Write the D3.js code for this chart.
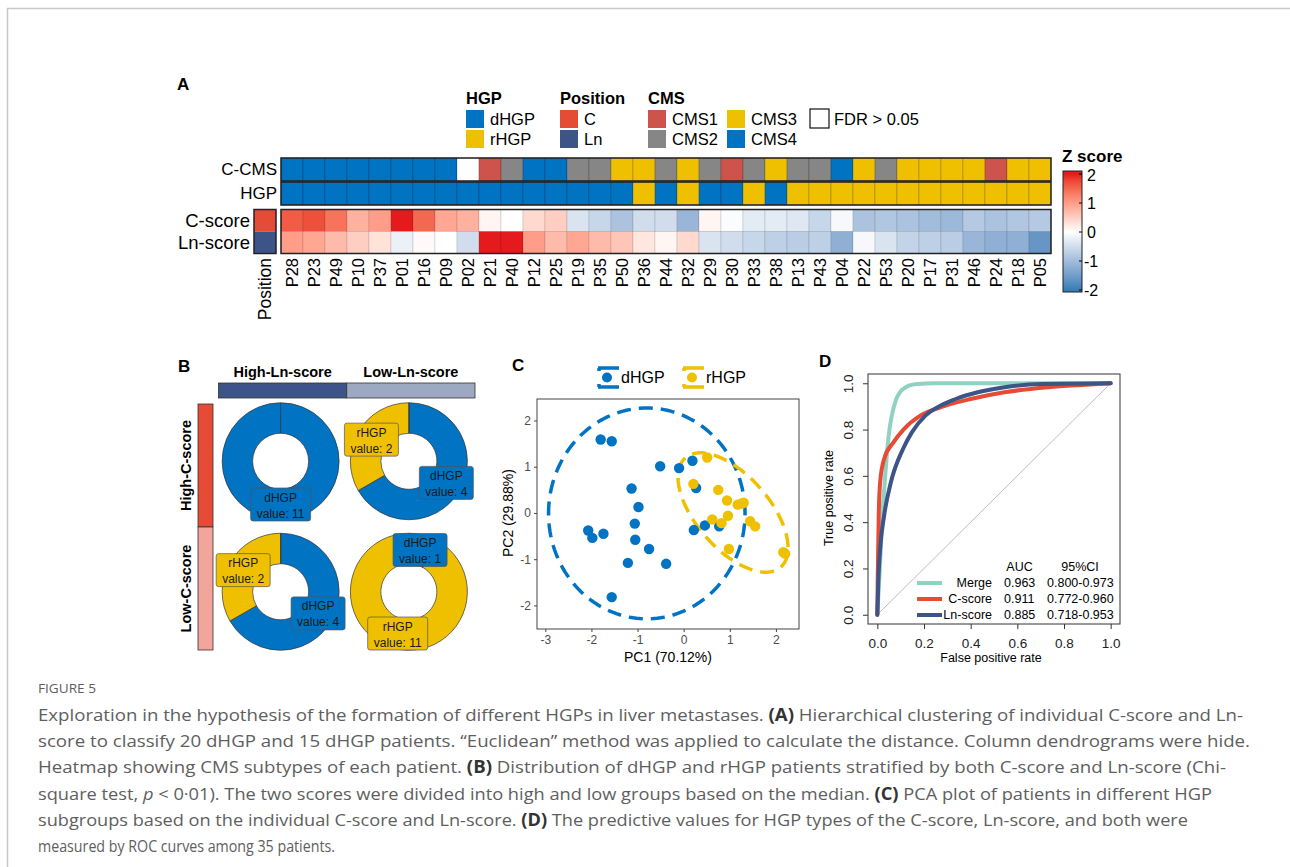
<!DOCTYPE html>
<html>
<head>
<meta charset="utf-8">
<script src="https://cdn.jsdelivr.net/npm/d3@7"></script>
<style>
  body { margin: 0; background: #fff; }
  svg { display: block; font-family: "Liberation Sans", Arial, sans-serif; }
</style>
</head>
<body>
<div id="fig"></div>
<script>
// ---------- data: panel A (heatmap) ----------
const patients = ["P28","P23","P49","P10","P37","P01","P16","P09","P02","P21","P40","P12","P25","P19","P35","P50","P36",
  "P44","P32","P29","P30","P33","P38","P13","P43","P04","P22","P53","P20","P17","P31","P46","P24","P18","P05"];
const cmsCall = ["CMS4","CMS4","CMS4","CMS4","CMS4","CMS4","CMS4","CMS4","FDR","CMS1","CMS2","CMS4","CMS4","CMS2","CMS2","CMS3","CMS3",
  "CMS2","CMS3","CMS2","CMS1","CMS2","CMS3","CMS2","CMS2","CMS4","CMS3","CMS2","CMS3","CMS3","CMS3","CMS3","CMS1","CMS3","CMS3"];
const hgpType = ["dHGP","dHGP","dHGP","dHGP","dHGP","dHGP","dHGP","dHGP","dHGP","dHGP","dHGP","dHGP","dHGP","dHGP","dHGP","dHGP","rHGP",
  "dHGP","rHGP","dHGP","dHGP","rHGP","dHGP","rHGP","rHGP","rHGP","rHGP","rHGP","rHGP","rHGP","rHGP","rHGP","rHGP","rHGP","rHGP"];
const cScore = [1.6,1.7,1.4,0.8,1.0,2.0,1.5,0.9,0.8,0.1,0.0,0.4,0.5,-0.4,-0.6,-0.9,-0.5,
  -0.5,-1.1,0.1,-0.05,-0.3,-0.3,-0.35,-0.6,-0.1,-0.9,-0.85,-0.9,-1.0,-1.05,-0.8,-0.9,-0.85,-0.8];
const lnScore = [1.0,0.9,0.7,0.5,0.3,-0.2,0.05,0.0,-0.5,2.0,2.0,1.0,0.7,0.9,0.7,0.6,0.25,
  0.1,0.4,-0.4,-0.5,-0.6,-0.7,-0.75,-0.7,-1.2,-0.1,-0.4,-0.65,-0.7,-0.75,-1.1,-1.2,-1.2,-1.6];
const scoreRows = ["C-score","Ln-score"];
const positionOfRow = ["C","Ln"];
const zTicks = [2,1,0,-1,-2];

// ---------- data: panel B (donuts) ----------
const lnGroups = ["High-Ln-score","Low-Ln-score"];
const cGroups = ["High-C-score","Low-C-score"];
// order: [cGroup][lnGroup]
const dHGPcount = [[11,4],[4,1]];
const rHGPcount = [[0,2],[2,11]];

// ---------- data: panel C (PCA) ----------
const pcaD = [[-1.80,1.59],[-1.56,1.55],[-0.51,1.01],[-0.10,0.97],[0.19,1.13],[0.27,0.54],[-1.13,0.53],[-0.98,0.13],
  [-1.06,-0.23],[-1.05,-0.58],[-0.75,-0.78],[-1.21,-1.08],[-0.38,-1.10],[-2.07,-0.38],[-1.98,-0.54],[-1.74,-0.45],
  [-1.56,-1.82],[0.22,-0.37],[0.46,-0.27],[0.77,-0.29]];
const pcaR = [[0.51,1.20],[0.21,0.63],[0.75,0.50],[0.94,0.27],[1.17,0.18],[1.30,0.22],[1.25,0.20],[0.96,-0.06],
  [0.62,-0.14],[0.82,-0.22],[1.44,-0.18],[1.55,-0.29],[0.98,-0.78],[2.16,-0.85],[2.20,-0.88]];
const ellipseCentre = [[-0.80,-0.01],[1.07,0.01]];
const ellipseRadii = [[2.13,2.28],[1.57,0.79]];
const ellipseAngle = [0,-48.8];
const pcaXTicks = [-3,-2,-1,0,1,2];
const pcaYTicks = [-2,-1,0,1,2];

// ---------- data: panel D (ROC) ----------
const rocMerge = [[0,0],[0.008,0.15],[0.015,0.29],[0.022,0.43],[0.033,0.59],[0.043,0.716],[0.052,0.8],[0.062,0.86],
  [0.081,0.932],[0.1,0.965],[0.112,0.976],[0.135,0.99],[0.17,0.997],[0.25,1],[1,1]];
const rocC = [[0,0],[0.0015,0.14],[0.006,0.43],[0.012,0.572],[0.029,0.673],[0.069,0.745],[0.112,0.8],[0.184,0.86],
  [0.27,0.896],[0.4,0.932],[0.545,0.961],[0.732,0.983],[0.876,0.993],[1,1]];
const rocLn = [[0,0],[0.004,0.14],[0.012,0.284],[0.029,0.428],[0.058,0.572],[0.11,0.716],[0.148,0.788],[0.206,0.86],
  [0.27,0.903],[0.336,0.932],[0.43,0.961],[0.545,0.983],[0.703,0.997],[1,1]];
const rocNames = ["Merge","C-score","Ln-score"];
const rocAUC = ["0.963","0.911","0.885"];
const rocCI = ["0.800-0.973","0.772-0.960","0.718-0.953"];
const rocTicks = [0,0.2,0.4,0.6,0.8,1.0];

// ---------- colours ----------
const hgpColor = {dHGP: "#0073C2", rHGP: "#EFC000"};
const cmsColor = {CMS1: "#CD534C", CMS2: "#868686", CMS3: "#EFC000", CMS4: "#0073C2", FDR: "#FFFFFF"};
const posColor = {C: "#E64B35", Ln: "#3C5488"};
const rocColor = ["#91D1C2", "#E64B35", "#3C5488"];
const zColor = d3.scaleLinear().domain([-2,0,2]).range(["#377EB8","#FFFFFF","#E41A1C"])
  .interpolate(d3.interpolateLab).clamp(true);

const W = 1290, H = 867;
const svg = d3.select("#fig").append("svg").attr("width", W).attr("height", H);

// page frame
svg.append("path").attr("d", `M7.5,${H}V8.5H${W}`)
  .attr("fill", "none").attr("stroke", "#c8c8c8").attr("stroke-width", 1.5);

function panelLetter(x, y, t) {
  svg.append("text").attr("x", x).attr("y", y).attr("font-size", 17).attr("font-weight", "bold").text(t);
}

// ================= Panel A =================
panelLetter(177, 90, "A");
const gA = svg.append("g");
const xA = d3.scaleBand().domain(patients).range([281, 1051]);
const annRows = [
  {name: "C-CMS", vals: cmsCall, col: cmsColor, y0: 158, y1: 181},
  {name: "HGP", vals: hgpType, col: hgpColor, y0: 182, y1: 205}
];
annRows.forEach(r => {
  gA.selectAll(null).data(patients).join("rect")
    .attr("x", d => xA(d)).attr("y", r.y0)
    .attr("width", xA.bandwidth()).attr("height", r.y1 - r.y0)
    .attr("fill", (d, i) => r.col[r.vals[i]])
    .attr("stroke", "rgba(0,0,0,0.3)").attr("stroke-width", 0.6);
  gA.append("rect").attr("x", 281).attr("y", r.y0).attr("width", 770).attr("height", r.y1 - r.y0)
    .attr("fill", "none").attr("stroke", "#222").attr("stroke-width", 1.5);
  gA.append("text").attr("x", 277).attr("y", (r.y0 + r.y1) / 2).attr("text-anchor", "end")
    .attr("dominant-baseline", "central").attr("font-size", 17).text(r.name);
});

const yS = d3.scaleBand().domain(scoreRows).range([209.5, 253.5]);
const scoreVals = [cScore, lnScore];
scoreRows.forEach((row, k) => {
  gA.selectAll(null).data(patients).join("rect")
    .attr("x", d => xA(d)).attr("y", yS(row))
    .attr("width", xA.bandwidth()).attr("height", yS.bandwidth())
    .attr("fill", (d, i) => zColor(scoreVals[k][i]))
    .attr("stroke", "rgba(0,0,0,0.18)").attr("stroke-width", 0.6);
  gA.append("rect").attr("x", 254).attr("y", yS(row)).attr("width", 22).attr("height", yS.bandwidth())
    .attr("fill", posColor[positionOfRow[k]]);
  gA.append("text").attr("x", 250).attr("y", yS(row) + yS.bandwidth() / 2).attr("text-anchor", "end")
    .attr("dominant-baseline", "central").attr("font-size", 18.5).text(row);
});
gA.append("rect").attr("x", 281).attr("y", 209.5).attr("width", 770).attr("height", 44)
  .attr("fill", "none").attr("stroke", "#222").attr("stroke-width", 1.5);
gA.append("rect").attr("x", 254).attr("y", 209.5).attr("width", 22).attr("height", 44)
  .attr("fill", "none").attr("stroke", "#222").attr("stroke-width", 1.5);

// column labels
gA.selectAll(null).data(patients).join("text")
  .attr("transform", d => `translate(${xA(d) + xA.bandwidth() / 2},258) rotate(-90)`)
  .attr("text-anchor", "end").attr("dominant-baseline", "central").attr("font-size", 16.5).text(d => d);
gA.append("text").attr("transform", "translate(265,258) rotate(-90)")
  .attr("text-anchor", "end").attr("dominant-baseline", "central").attr("font-size", 17.5).text("Position");

// legends
function legendBlock(x, title, items, colors, cols) {
  gA.append("text").attr("x", x).attr("y", 104).attr("font-size", 16.5).attr("font-weight", "bold").text(title);
  items.forEach((it, i) => {
    const col = Math.floor(i / 2), row = i % 2;
    const sx = x + col * cols;
    gA.append("rect").attr("x", sx).attr("y", 110 + row * 20).attr("width", 18).attr("height", 18)
      .attr("fill", colors[it]);
    gA.append("text").attr("x", sx + 24).attr("y", 119 + row * 20).attr("dominant-baseline", "central")
      .attr("font-size", 16.5).text(it);
  });
}
legendBlock(466, "HGP", ["dHGP","rHGP"], hgpColor, 0);
legendBlock(560, "Position", ["C","Ln"], posColor, 0);
legendBlock(648, "CMS", ["CMS1","CMS2","CMS3","CMS4"], cmsColor, 79);
gA.append("rect").attr("x", 810).attr("y", 109).attr("width", 19).attr("height", 19)
  .attr("fill", "#fff").attr("stroke", "#111").attr("stroke-width", 1.2);
gA.append("text").attr("x", 834).attr("y", 119).attr("dominant-baseline", "central")
  .attr("font-size", 16.5).text("FDR > 0.05");

// colour bar
const zY = d3.scaleLinear().domain([-2,2]).range([290,174]);
const defs = svg.append("defs");
const grad = defs.append("linearGradient").attr("id", "zgrad").attr("x1", 0).attr("y1", 0).attr("x2", 0).attr("y2", 1);
const barTop = 171, barH = 121;
d3.range(2, -2.01, -0.25).forEach(v => {
  grad.append("stop").attr("offset", (zY(v) - barTop) / barH).attr("stop-color", zColor(v));
});
gA.append("text").attr("x", 1062).attr("y", 162).attr("font-size", 17).attr("font-weight", "bold").text("Z score");
gA.append("rect").attr("x", 1063).attr("y", barTop).attr("width", 19).attr("height", barH)
  .attr("fill", "url(#zgrad)").attr("stroke", "#222").attr("stroke-width", 1);
zTicks.forEach(t => {
  gA.append("line").attr("x1", 1079).attr("x2", 1082).attr("y1", zY(t)).attr("y2", zY(t)).attr("stroke", "#000");
  gA.append("text").attr("x", t < 0 ? 1084 : 1087).attr("y", zY(t) + (t === 2 ? 1.5 : 0)).attr("dominant-baseline", "central")
    .attr("font-size", 16).text(t);
});

// ================= Panel B =================
panelLetter(178, 372, "B");
const gB = svg.append("g");
const xB = d3.scaleBand().domain(lnGroups).range([218.5, 475]);
const yBar = d3.scaleBand().domain(cGroups).range([404, 650]);
const yB = d3.scaleBand().domain(cGroups).range([396, 657]);
const lnBarCol = ["#3C5488", "#9DA9C3"], cBarCol = ["#E64B35", "#F2A59A"];
lnGroups.forEach((g, i) => {
  gB.append("rect").attr("x", xB(g)).attr("y", 383).attr("width", xB.bandwidth()).attr("height", 15)
    .attr("fill", lnBarCol[i]).attr("stroke", "#333").attr("stroke-width", 0.8);
  gB.append("text").attr("x", xB(g) + xB.bandwidth() / 2).attr("y", 377).attr("text-anchor", "middle")
    .attr("font-size", 14.5).attr("font-weight", "bold").text(g);
});
cGroups.forEach((g, i) => {
  gB.append("rect").attr("x", 198).attr("y", yBar(g)).attr("width", 15).attr("height", yBar.bandwidth())
    .attr("fill", cBarCol[i]).attr("stroke", "#333").attr("stroke-width", 0.8);
  gB.append("text").attr("transform", `translate(191,${yBar(g) + yBar.bandwidth() / 2}) rotate(-90)`)
    .attr("text-anchor", "middle").attr("font-size", 14.5).attr("font-weight", "bold").text(g);
});
const pie = d3.pie().sort(null).value(d => d.n);
const arc = d3.arc().innerRadius(28).outerRadius(58.5);
cGroups.forEach((cg, i) => {
  lnGroups.forEach((lg, j) => {
    const cx = xB(lg) + xB.bandwidth() / 2 - 2;
    const cy = yB(cg) + yB.bandwidth() / 2;
    const g = gB.append("g").attr("transform", `translate(${cx},${cy})`);
    const slices = pie([{k: "dHGP", n: dHGPcount[i][j]}, {k: "rHGP", n: rHGPcount[i][j]}]).filter(d => d.data.n > 0);
    g.selectAll("path").data(slices).join("path").attr("d", arc)
      .attr("fill", d => hgpColor[d.data.k]).attr("stroke", "#333").attr("stroke-width", 0.7);
    g.append("line").attr("x1", 0).attr("x2", 0).attr("y1", -28).attr("y2", -58.5)
      .attr("stroke", "#333").attr("stroke-width", 0.7);
    slices.forEach(d => {
      const [lx, ly] = arc.centroid(d);
      const lines = [d.data.k, "value: " + d.data.n];
      const bw = d.data.n >= 10 ? 60 : 54, bh = 33;
      g.append("rect").attr("x", lx - bw / 2).attr("y", ly - bh / 2).attr("width", bw).attr("height", bh)
        .attr("rx", 2.5).attr("fill", hgpColor[d.data.k]).attr("stroke", "#555").attr("stroke-width", 0.7);
      lines.forEach((t, k) => {
        g.append("text").attr("x", lx).attr("y", ly + (k === 0 ? -7 : 9)).attr("text-anchor", "middle")
          .attr("dominant-baseline", "central").attr("font-size", 12).attr("fill", "#1a1a1a").text(t);
      });
    });
  });
});

// ================= Panel C =================
panelLetter(512, 371, "C");
const gC = svg.append("g");
const xC = d3.scaleLinear().domain([-3.18, 2.5]).range([537, 799]);
const yC = d3.scaleLinear().domain([-2.51, 2.465]).range([629, 399]);
gC.append("rect").attr("x", 537).attr("y", 399).attr("width", 262).attr("height", 230)
  .attr("fill", "#fff").attr("stroke", "#444").attr("stroke-width", 1);
const axC = gC.append("g").attr("transform", "translate(0,629)")
  .call(d3.axisBottom(xC).tickValues(pcaXTicks).tickFormat(d => String(d)).tickSize(3).tickPadding(3));
const ayC = gC.append("g").attr("transform", "translate(537,0)")
  .call(d3.axisLeft(yC).tickValues(pcaYTicks).tickFormat(d => String(d)).tickSize(3).tickPadding(3));
[axC, ayC].forEach(a => {
  a.select(".domain").remove();
  a.selectAll("line").attr("stroke", "#444");
  a.selectAll("text").attr("font-size", 12).attr("fill", "#4d4d4d").attr("font-family", "Liberation Sans, Arial, sans-serif");
});
gC.append("text").attr("x", 668).attr("y", 662).attr("text-anchor", "middle").attr("font-size", 14).text("PC1 (70.12%)");
gC.append("text").attr("transform", "translate(513,513) rotate(-90)").attr("text-anchor", "middle")
  .attr("font-size", 14).text("PC2 (29.88%)");

const ellLine = d3.line().x(d => xC(d[0])).y(d => yC(d[1]));
const groupsC = ["dHGP","rHGP"];
groupsC.forEach((gname, k) => {
  const [ex, ey] = ellipseCentre[k], [ra, rb] = ellipseRadii[k], th = ellipseAngle[k] * Math.PI / 180;
  const pts = d3.range(0, 2 * Math.PI + 0.001, Math.PI / 90).map(t => [
    ex + ra * Math.cos(t) * Math.cos(th) - rb * Math.sin(t) * Math.sin(th),
    ey + ra * Math.cos(t) * Math.sin(th) + rb * Math.sin(t) * Math.cos(th)
  ]);
  gC.append("path").attr("d", ellLine(pts)).attr("fill", "none").attr("stroke", hgpColor[gname])
    .attr("stroke-width", 3.5).attr("stroke-dasharray", "14 8");
});
gC.selectAll(".pd").data(pcaD).join("circle").attr("cx", d => xC(d[0])).attr("cy", d => yC(d[1]))
  .attr("r", 5.2).attr("fill", hgpColor.dHGP);
gC.selectAll(".pr").data(pcaR).join("circle").attr("cx", d => xC(d[0])).attr("cy", d => yC(d[1]))
  .attr("r", 5.2).attr("fill", hgpColor.rHGP);
// legend C
[[597, "dHGP"], [682, "rHGP"]].forEach(([lx, name]) => {
  const c = hgpColor[name];
  gC.append("path").attr("d", `M${lx + 1},368H${lx + 22}M${lx + 1},387H${lx + 22}M${lx + 2},368V371M${lx + 2},384V387`)
    .attr("fill", "none").attr("stroke", c).attr("stroke-width", 3.5);
  gC.append("circle").attr("cx", lx + 10).attr("cy", 377.5).attr("r", 5).attr("fill", c);
  gC.append("text").attr("x", lx + 24).attr("y", 377.5).attr("dominant-baseline", "central")
    .attr("font-size", 16).text(name);
});

// ================= Panel D =================
panelLetter(819, 367, "D");
const gD = svg.append("g");
const xD = d3.scaleLinear().domain([-0.04, 1.04]).range([868, 1120]);
const yD = d3.scaleLinear().domain([-0.04, 1.04]).range([624, 374]);
gD.append("line").attr("x1", xD(0)).attr("y1", yD(0)).attr("x2", xD(1)).attr("y2", yD(1))
  .attr("stroke", "#bdbdbd").attr("stroke-width", 1);
const rocLine = d3.line().x(d => xD(d[0])).y(d => yD(d[1])).curve(d3.curveMonotoneX);
[rocMerge, rocC, rocLn].forEach((r, k) => {
  gD.append("path").attr("d", rocLine(r)).attr("fill", "none").attr("stroke", rocColor[k])
    .attr("stroke-width", 4).attr("stroke-linecap", "round");
});
gD.append("rect").attr("x", 868).attr("y", 374).attr("width", 252).attr("height", 250)
  .attr("fill", "none").attr("stroke", "#333").attr("stroke-width", 1);
const axD = gD.append("g").attr("transform", "translate(0,624)")
  .call(d3.axisBottom(xD).tickValues(rocTicks).tickFormat(d3.format(".1f")).tickSize(5).tickPadding(5));
const ayD = gD.append("g").attr("transform", "translate(868,0)")
  .call(d3.axisLeft(yD).tickValues(rocTicks).tickFormat(d3.format(".1f")).tickSize(5).tickPadding(5));
[axD, ayD].forEach(a => {
  a.select(".domain").remove();
  a.selectAll("line").attr("stroke", "#333");
  a.selectAll("text").attr("font-size", 13.5).attr("fill", "#222").attr("font-family", "Liberation Sans, Arial, sans-serif");
});
axD.selectAll("text").attr("dy", "1.05em");
ayD.selectAll("text").attr("transform", "rotate(-90,-20,0)")
  .attr("x", -20).attr("dy", "0.36em").attr("text-anchor", "middle");
gD.append("text").attr("x", 991).attr("y", 662).attr("text-anchor", "middle").attr("font-size", 12.5).text("False positive rate");
gD.append("text").attr("transform", "translate(833,498) rotate(-90)").attr("text-anchor", "middle")
  .attr("font-size", 12.5).text("True positive rate");
// legend D
gD.append("text").attr("x", 1019.5).attr("y", 567).attr("text-anchor", "middle").attr("dominant-baseline", "central")
  .attr("font-size", 12.5).text("AUC");
gD.append("text").attr("x", 1080).attr("y", 567).attr("text-anchor", "middle").attr("dominant-baseline", "central")
  .attr("font-size", 12.5).text("95%CI");
rocNames.forEach((n, k) => {
  const ly = 583 + k * 16;
  gD.append("line").attr("x1", 917).attr("x2", 942).attr("y1", ly).attr("y2", ly)
    .attr("stroke", rocColor[k]).attr("stroke-width", 4);
  gD.append("text").attr("x", 992).attr("y", ly).attr("text-anchor", "end").attr("dominant-baseline", "central")
    .attr("font-size", 12.5).text(n);
  gD.append("text").attr("x", 1004).attr("y", ly).attr("dominant-baseline", "central")
    .attr("font-size", 12.5).text(rocAUC[k]);
  gD.append("text").attr("x", 1047).attr("y", ly).attr("dominant-baseline", "central")
    .attr("font-size", 12.5).text(rocCI[k]);
});

// ================= caption =================
const gT = svg.append("g").attr("fill", "#5e5e5e").attr("font-family", "'Liberation Sans Narrow', 'Open Sans', sans-serif");
gT.append("text").attr("x", 38).attr("y", 693).attr("font-size", 12).attr("textLength", 58)
  .attr("lengthAdjust", "spacingAndGlyphs").text("FIGURE 5");
const captionLines = [
  [[ "Exploration in the hypothesis of the formation of different HGPs in liver metastases. " ], ["(A)", "b"], [" Hierarchical clustering of individual C-score and Ln-"]],
  [[ "score to classify 20 dHGP and 15 dHGP patients. \u201CEuclidean\u201D method was applied to calculate the distance. Column dendrograms were hide." ]],
  [[ "Heatmap showing CMS subtypes of each patient. " ], ["(B)", "b"], [" Distribution of dHGP and rHGP patients stratified by both C-score and Ln-score (Chi-"]],
  [[ "square test, " ], ["p", "i"], [" < 0\u00B701). The two scores were divided into high and low groups based on the median. "], ["(C)", "b"], [" PCA plot of patients in different HGP"]],
  [[ "subgroups based on the individual C-score and Ln-score. " ], ["(D)", "b"], [" The predictive values for HGP types of the C-score, Ln-score, and both were"]],
  [[ "measured by ROC curves among 35 patients." ]]
];
const captionEnd = [1243, 1250, 1226, 1212, 1188, 335];
captionLines.forEach((parts, i) => {
  const t = gT.append("text").attr("x", 38).attr("y", 721 + i * 26.2).attr("font-size", 17)
    .attr("textLength", captionEnd[i] - 38).attr("lengthAdjust", "spacingAndGlyphs");
  parts.forEach(p => {
    const ts = t.append("tspan").text(p[0]);
    if (p[1] === "b") ts.attr("font-weight", "bold").attr("fill", "#333");
    if (p[1] === "i") ts.attr("font-style", "italic");
  });
});
</script>
</body>
</html>
